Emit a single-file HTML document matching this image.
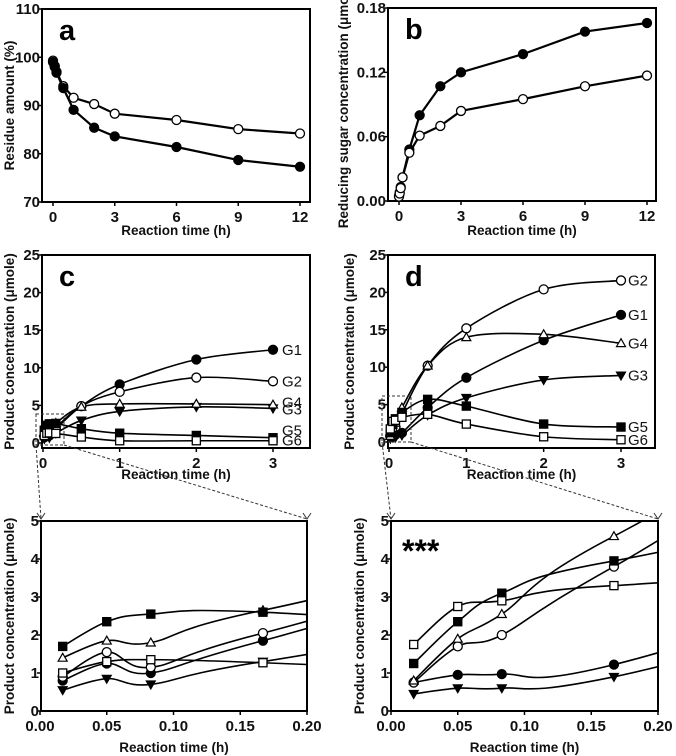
<!DOCTYPE html>
<html><head><meta charset="utf-8">
<style>
html,body{margin:0;padding:0;background:#fff;}
svg{display:block;font-family:"Liberation Sans",Arial,sans-serif;}
.tk{font-size:15px;font-weight:bold;fill:#111;}
.tt{font-size:13.5px;font-weight:bold;fill:#111;}
.pl{font-size:29px;font-weight:bold;fill:#000;}
</style></head>
<body>
<svg id="fig" width="676" height="756" viewBox="0 0 676 756">
<defs>
<clipPath id="clipE"><rect x="41" y="521" width="266" height="190"/></clipPath>
<clipPath id="clipF"><rect x="391" y="521" width="267" height="190"/></clipPath>
</defs>
</svg>
<script>
// ---- Panel a data ----
const aTimes=[0,0.083,0.17,0.5,1,2,3,6,9,12];
const aFilled=[99,98.2,96.8,93.6,89.1,85.4,83.6,81.4,78.7,77.3];
const aOpen=[99.3,98,97,94,91.6,90.3,88.3,87,85.1,84.2];
const aXTicks=[0,3,6,9,12];
const aYTicks=[70,80,90,100,110];
// ---- Panel b data ----
const bTimes=[0,0.033,0.083,0.17,0.5,1,2,3,6,9,12];
const bFilled=[0.005,0.008,0.013,0.022,0.048,0.080,0.107,0.120,0.137,0.158,0.166];
const bOpen=[0.004,0.007,0.012,0.022,0.045,0.061,0.070,0.084,0.095,0.107,0.117];
const bXTicks=[0,3,6,9,12];
const bYTicks=[0,0.06,0.12,0.18];
const bYTickLabels=["0.00","0.06","0.12","0.18"];
// ---- Panels c-f data ----
const gTimes=[0.017,0.05,0.083,0.167,0.5,1,2,3];
const seriesNames=["G1","G2","G3","G4","G5","G6"];
const cG1=[0.8,1.25,1.0,1.85,4.9,7.8,11.1,12.4];
const cG2=[0.9,1.55,1.15,2.05,4.9,6.8,8.7,8.2];
const cG3=[0.55,0.85,0.7,1.3,3.0,4.2,4.8,4.6];
const cG4=[1.4,1.85,1.8,2.65,4.8,5.2,5.2,5.1];
const cG5=[1.7,2.35,2.55,2.6,1.9,1.3,1.0,0.7];
const cG6=[1.0,1.3,1.35,1.27,0.8,0.3,0.3,0.3];
const dG1=[0.75,0.95,0.97,1.22,4.6,8.6,13.6,17.0];
const dG2=[0.75,1.7,2.0,3.8,10.2,15.2,20.4,21.6];
const dG3=[0.45,0.6,0.6,0.9,3.6,5.9,8.3,8.9];
const dG4=[0.8,1.9,2.55,4.6,10.2,14.0,14.4,13.2];
const dG5=[1.25,2.35,3.1,3.95,5.7,4.8,2.4,2.0];
const dG6=[1.75,2.75,2.9,3.3,3.7,2.4,0.7,0.3];
const cdXTicks=[0,1,2,3];
const cdYTicks=[0,5,10,15,20,25];
const efXTicks=[0,0.05,0.1,0.15,0.2];
const efXTickLabels=["0.00","0.05","0.10","0.15","0.20"];
const efYTicks=[0,1,2,3,4,5];

const NS="http://www.w3.org/2000/svg";
const svg=document.getElementById('fig');
function mk(tag,attrs,parent,name){
  const e=document.createElementNS(NS,tag);
  for(const k in attrs)e.setAttribute(k,attrs[k]);
  
  
  (parent||svg).appendChild(e);return e;
}
function lin(d0,d1,r0,r1){return v=>r0+(v-d0)*(r1-r0)/(d1-d0);}
function marker(g,type,x,y,r,name){
  const fillC=(type.indexOf('filled')>=0)?'#000':'#fff';
  let e;
  if(type.indexOf('circle')>=0) e=mk('circle',{cx:x,cy:y,r:r,fill:fillC,stroke:'#000','stroke-width':1.3},g,name);
  else if(type.indexOf('square')>=0) e=mk('rect',{x:x-r*0.9,y:y-r*0.9,width:r*1.8,height:r*1.8,fill:fillC,stroke:'#000','stroke-width':1.3},g,name);
  else if(type==='open-tri') e=mk('polygon',{points:`${x},${y-r} ${x-r},${y+r*0.75} ${x+r},${y+r*0.75}`,fill:fillC,stroke:'#000','stroke-width':1.2},g,name);
  else e=mk('polygon',{points:`${x},${y+r} ${x-r},${y-r*0.75} ${x+r},${y-r*0.75}`,fill:fillC,stroke:'#000','stroke-width':1.2},g,name);
  return e;
}
function smoothPath(pts){
  let d=`M${pts[0][0]},${pts[0][1]}`;
  for(let i=0;i<pts.length-1;i++){
    const p0=pts[i-1]||pts[i],p1=pts[i],p2=pts[i+1],p3=pts[i+2]||p2;
    const t=1/6;
    const c1=[p1[0]+(p2[0]-p0[0])*t,p1[1]+(p2[1]-p0[1])*t];
    const c2=[p2[0]-(p3[0]-p1[0])*t,p2[1]-(p3[1]-p1[1])*t];
    d+=` C${c1[0]},${c1[1]} ${c2[0]},${c2[1]} ${p2[0]},${p2[1]}`;
  }
  return d;
}
function axes(cfg){
  const g=mk('g',{},svg,cfg.name);
  mk('rect',{x:cfg.L,y:cfg.T,width:cfg.R-cfg.L,height:cfg.B-cfg.T,fill:'none',stroke:'#000','stroke-width':2},g,'plot-frame');
  cfg.xt.forEach((v,i)=>{const x=cfg.X(v);
    mk('line',{x1:x,y1:cfg.B,x2:x,y2:cfg.B+4,stroke:'#000','stroke-width':1.5},g,'x-tick');
    const t=mk('text',{x:x,y:cfg.B+20,'text-anchor':'middle',class:'tk'},g,'x-tick-label');t.textContent=cfg.xl?cfg.xl[i]:v;});
  cfg.yt.forEach((v,i)=>{const y=cfg.Y(v);
    mk('line',{x1:cfg.L-4,y1:y,x2:cfg.L,y2:y,stroke:'#000','stroke-width':1.5},g,'y-tick');
    const t=mk('text',{x:cfg.L-2,y:y+5,'text-anchor':'end',class:'tk'},g,'y-tick-label');t.textContent=cfg.yl?cfg.yl[i]:v;});
  const xt=mk('text',{x:(cfg.L+cfg.R)/2,y:cfg.xTitleY,'text-anchor':'middle',class:'tt'},g,'x-axis-title');xt.textContent='Reaction time (h)';
  const cy=(cfg.T+cfg.B)/2;
  const yt=mk('text',{x:cfg.yTitleX,y:cy,'text-anchor':'middle',class:'tt',transform:`rotate(-90 ${cfg.yTitleX} ${cy})`},g,'y-axis-title');yt.textContent=cfg.ytitle;
  if(cfg.letter){const l=mk('text',{x:cfg.L+17,y:cfg.T+31,class:'pl'},g,'panel-label');l.textContent=cfg.letter;}
  return g;
}
function straightSeries(g,cfg,xs,ys,type,name){
  const pts=xs.map((x,i)=>[cfg.X(x),cfg.Y(ys[i])]);
  mk('polyline',{points:pts.map(p=>p.join(',')).join(' '),fill:'none',stroke:'#000','stroke-width':2.2},g,name+'-line');
  pts.forEach(p=>marker(g,type,p[0],p[1],4.5,name+'-point'));
}
// Panel a
const A={name:'panel-a',L:42,R:310,T:9,B:202,X:lin(0,12,53,300),Y:lin(70,110,202,9),xt:aXTicks,yt:aYTicks,xTitleY:235,yTitleX:14,ytitle:'Residue amount (%)',letter:'a'};
const ga=axes(A);
straightSeries(ga,A,aTimes,aOpen,'open-circle','a-enzyme-open');
straightSeries(ga,A,aTimes,aFilled,'filled-circle','a-enzyme-filled');
// Panel b
const Bp={name:'panel-b',L:388,R:656,T:8,B:201,X:lin(0,12,399,647),Y:lin(0,0.18,201,8),xt:bXTicks,yt:bYTicks,yl:bYTickLabels,xTitleY:235,yTitleX:348,ytitle:'Reducing sugar concentration (μmole)',letter:'b'};
const gb=axes(Bp);
straightSeries(gb,Bp,bTimes,bFilled,'filled-circle','b-enzyme-filled');
straightSeries(gb,Bp,bTimes,bOpen,'open-circle','b-enzyme-open');

const types={G1:'filled-circle',G2:'open-circle',G3:'filled-tri',G4:'open-tri',G5:'filled-square',G6:'open-square'};
function curvePanel(cfg,data,labelX,labelOff,clip,r,showLabels){
  const g=axes(cfg);
  const cg=mk('g',clip?{'clip-path':`url(#${clip})`}:{},g,'series-group');
  seriesNames.forEach(n=>{
    const ys=data[n];
    const pts=gTimes.map((t,i)=>[cfg.X(t),cfg.Y(ys[i])]);
    mk('path',{d:smoothPath(pts),fill:'none',stroke:'#000','stroke-width':1.6},cg,n+'-curve');
    pts.forEach(p=>{ if(!clip||p[0]<=cfg.R+1) marker(g,types[n],p[0],p[1],r,n+'-point');});
    if(showLabels){const t=mk('text',{x:labelX,y:cfg.Y(ys[ys.length-1])+5+(labelOff[n]||0),class:'tk',style:'font-weight:normal;font-size:15px'},g,n+'-label');t.textContent=n;}
  });
  return g;
}
const C={name:'panel-c',L:42,R:310,T:255,B:448,X:lin(0,3,43,273),Y:lin(0,25,443,255),xt:cdXTicks,yt:cdYTicks,xTitleY:479,yTitleX:14,ytitle:'Product concentration (μmole)',letter:'c'};
curvePanel(C,{G1:cG1,G2:cG2,G3:cG3,G4:cG4,G5:cG5,G6:cG6},282,{G4:-2,G3:1,G5:-7,G6:0},null,4.5,true);
const D={name:'panel-d',L:388,R:655,T:255,B:448,X:lin(0,3,389,621),Y:lin(0,25,442,255),xt:cdXTicks,yt:cdYTicks,xTitleY:479,yTitleX:354,ytitle:'Product concentration (μmole)',letter:'d'};
curvePanel(D,{G1:dG1,G2:dG2,G3:dG3,G4:dG4,G5:dG5,G6:dG6},628,{},null,4.5,true);
const E={name:'panel-e',L:41,R:307,T:521,B:711,X:lin(0,0.2,40,307),Y:lin(0,5,711,521),xt:efXTicks,xl:efXTickLabels,yt:efYTicks,xTitleY:752,yTitleX:14,ytitle:'Product concentration (μmole)'};
curvePanel(E,{G1:cG1,G2:cG2,G3:cG3,G4:cG4,G5:cG5,G6:cG6},0,{},'clipE',4.5,false);
const F={name:'panel-f',L:391,R:658,T:521,B:711,X:lin(0,0.2,391,658),Y:lin(0,5,711,521),xt:efXTicks,xl:efXTickLabels,yt:efYTicks,xTitleY:752,yTitleX:364,ytitle:'Product concentration (μmole)'};
curvePanel(F,{G1:dG1,G2:dG2,G3:dG3,G4:dG4,G5:dG5,G6:dG6},0,{},'clipF',4.5,false);
const st=mk('text',{x:402,y:562,style:'font-size:32px;font-weight:bold'},svg,'significance-stars');st.textContent='***';

// zoom indicators
const ds={fill:'none',stroke:'#333','stroke-width':1,'stroke-dasharray':'3,2'};
mk('rect',Object.assign({x:36,y:414,width:28,height:31},ds),svg,'zoom-box-c');
mk('line',Object.assign({x1:36,y1:445,x2:41,y2:519},ds),svg,'zoom-line-left-c');
mk('line',Object.assign({x1:64,y1:445,x2:307,y2:519},ds),svg,'zoom-line-right-c');
mk('rect',Object.assign({x:382,y:396,width:29,height:46},ds),svg,'zoom-box-d');
mk('line',Object.assign({x1:382,y1:442,x2:391,y2:519},ds),svg,'zoom-line-left-d');
mk('line',Object.assign({x1:411,y1:442,x2:658,y2:519},ds),svg,'zoom-line-right-d');
[[41,519],[307,519],[391,519],[658,519]].forEach(p=>{
  mk('polyline',{points:`${p[0]-4},${p[1]-6} ${p[0]},${p[1]} ${p[0]+4},${p[1]-6}`,fill:'none',stroke:'#333','stroke-width':1},svg,'zoom-arrowhead');
});
</script>
</body></html>
